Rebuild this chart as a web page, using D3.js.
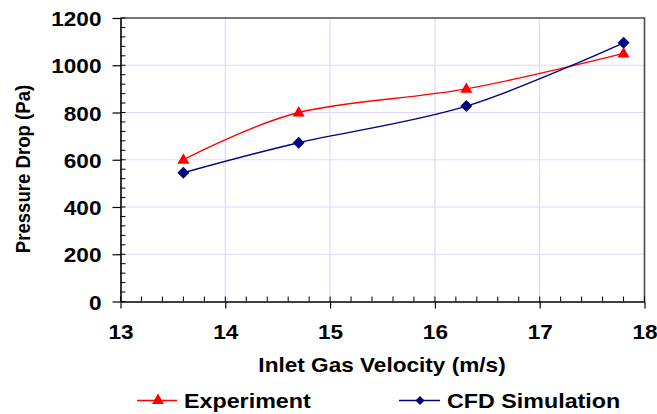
<!DOCTYPE html>
<html><head><meta charset="utf-8">
<script src="https://cdn.jsdelivr.net/npm/d3@7"></script>
<style>
body{margin:0;background:#fff;}
svg{display:block;}
text{font-family:"Liberation Sans",Arial,sans-serif;font-weight:bold;fill:#000;}
</style></head>
<body>
<svg id="chart" width="657" height="414"></svg>
<script>
const velocity = [13.6, 14.7, 16.3, 17.8];
const experiment = [600, 800, 900, 1050];
const cfd = [545, 672, 827, 1095];
const xTicks = [13, 14, 15, 16, 17, 18];
const yTicks = [0, 200, 400, 600, 800, 1000, 1200];
const seriesNames = ["Experiment", "CFD Simulation"];

const svg = d3.select("#chart");
const SX = 1.13;
const x = d3.scaleLinear().domain([13, 18]).range([120.5, 644.5]);
const y = d3.scaleLinear().domain([0, 1200]).range([301.5, 18]);
const gridColor = "#e3d6ff";

// gridlines
svg.append("g").selectAll("line").data(yTicks.filter(d => d > 0 && d < 1200)).join("line")
  .attr("x1", x(13)).attr("x2", x(18)).attr("y1", d => y(d)).attr("y2", d => y(d))
  .attr("stroke", gridColor).attr("stroke-width", 1.2);
svg.append("g").selectAll("line").data(xTicks.filter(d => d > 13 && d < 18)).join("line")
  .attr("y1", y(0)).attr("y2", y(1200)).attr("x1", d => x(d)).attr("x2", d => x(d))
  .attr("stroke", gridColor).attr("stroke-width", 1.2);

// top/right frame
svg.append("path")
  .attr("d", `M${x(13)},${y(1200)}H${x(18)}V${y(0)}`)
  .attr("fill", "none").attr("stroke", "#4a4a4a").attr("stroke-width", 1.6);

// minor inner ticks
const yMinor = d3.range(0, 1201, 40);
svg.append("g").selectAll("line").data(yMinor).join("line")
  .attr("x1", x(13)).attr("x2", x(13) + 5).attr("y1", d => y(d)).attr("y2", d => y(d))
  .attr("stroke", "#000").attr("stroke-width", 1);
const xMinor = d3.range(0, 26).map(i => 13 + i * 0.2);
svg.append("g").selectAll("line").data(xMinor).join("line")
  .attr("y1", y(0)).attr("y2", y(0) - 5).attr("x1", d => x(d)).attr("x2", d => x(d))
  .attr("stroke", "#000").attr("stroke-width", 1);

// axes
const xAxis = svg.append("g").attr("transform", `translate(0,${y(0)})`)
  .call(d3.axisBottom(x).tickValues(xTicks).tickSize(7).tickSizeOuter(0).tickFormat(d3.format("d")));
xAxis.select(".domain").attr("stroke", "#000").attr("stroke-width", 1.6);
xAxis.selectAll(".tick line").attr("stroke", "#000").attr("stroke-width", 1.2);
xAxis.selectAll(".tick text").attr("font-size", 20).attr("y", 0).attr("dy", 0)
  .attr("transform", `translate(0,37.5) scale(${SX},1)`).attr("font-family", "Liberation Sans").attr("font-weight", "bold");

const yAxis = svg.append("g").attr("transform", `translate(${x(13)},0)`)
  .call(d3.axisLeft(y).tickValues(yTicks).tickSize(8).tickSizeOuter(0).tickFormat(d3.format("d")));
yAxis.select(".domain").attr("stroke", "#000").attr("stroke-width", 1.6);
yAxis.selectAll(".tick line").attr("stroke", "#000").attr("stroke-width", 1.2);
yAxis.selectAll(".tick text").attr("font-size", 20).attr("x", 0).attr("dy", 0)
  .attr("transform", `translate(-19,7.5) scale(${SX},1)`).attr("font-family", "Liberation Sans").attr("font-weight", "bold");

// axis titles
svg.append("text").attr("transform", `translate(382,371.5) scale(${SX},1)`)
  .attr("text-anchor", "middle").attr("font-size", 20).text("Inlet Gas Velocity (m/s)");
svg.append("text").attr("transform", `translate(30,169) scale(1.05,1) rotate(-90)`)
  .attr("text-anchor", "middle").attr("font-size", 18.6).text("Pressure Drop (Pa)");

// series
const curve = d3.curveCatmullRom.alpha(0);
const line = d3.line().x(d => x(d[0])).y(d => y(d[1])).curve(curve);
const expData = velocity.map((v, i) => [v, experiment[i]]);
const cfdData = velocity.map((v, i) => [v, cfd[i]]);

svg.append("path").datum(expData).attr("d", line).attr("fill", "none")
  .attr("stroke", "#ff0000").attr("stroke-width", 1.4);
svg.append("path").datum(cfdData).attr("d", line).attr("fill", "none")
  .attr("stroke", "#000080").attr("stroke-width", 1.4);

const tri = d3.symbol().type(d3.symbolTriangle).size(62);
const dia = "M0,-6L6,0L0,6L-6,0Z";
svg.append("g").selectAll("path").data(cfdData).join("path")
  .attr("transform", d => `translate(${x(d[0])},${y(d[1])})`).attr("d", dia).attr("fill", "#000080");
svg.append("g").selectAll("path").data(expData).join("path")
  .attr("transform", d => `translate(${x(d[0])},${y(d[1]) + 0.5})`).attr("d", tri).attr("fill", "#ff0000");

// legend
const leg = svg.append("g");
leg.append("line").attr("x1", 137).attr("x2", 177).attr("y1", 400.5).attr("y2", 400.5)
  .attr("stroke", "#ff0000").attr("stroke-width", 1.4);
leg.append("path").attr("transform", "translate(158,400.5)").attr("d", tri).attr("fill", "#ff0000");
leg.append("text").attr("transform", `translate(184,407.5) scale(${SX},1)`).attr("font-size", 20.6).text(seriesNames[0]);
leg.append("line").attr("x1", 399).attr("x2", 440).attr("y1", 400.5).attr("y2", 400.5)
  .attr("stroke", "#000080").attr("stroke-width", 1.4);
leg.append("path").attr("transform", "translate(420,400.5)").attr("d", "M0,-4.5L4.5,0L0,4.5L-4.5,0Z").attr("fill", "#000080");
leg.append("text").attr("transform", `translate(447,407.5) scale(${SX},1)`).attr("font-size", 20.6).text(seriesNames[1]);
</script>
</body></html>
